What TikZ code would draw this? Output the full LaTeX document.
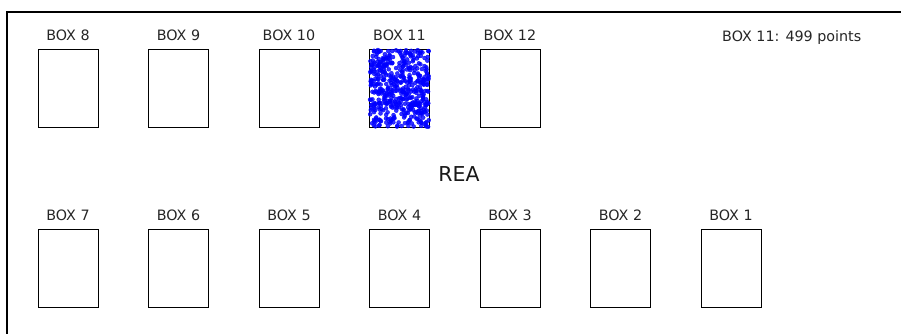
\documentclass[tikz,border=0pt]{standalone}
\usepackage{fontspec}
\setmainfont{DejaVu Sans}
\usepackage{tikz}
\usetikzlibrary{positioning,calc}

\begin{document}
\begin{tikzpicture}[
  x=1pt, y=-1pt,
  bin/.style={draw, line width=0.9pt, minimum width=60pt, minimum height=78pt, inner sep=0pt, anchor=north west},
  binlabel/.style={font=\fontsize{14.3}{16}\selectfont, inner sep=0pt, text=black!85},
  every label/.style={binlabel},
  label distance=8pt,
  dot/.style={fill=blue, draw=blue, line width=0.3pt, fill opacity=0.8}
]
\useasboundingbox (0,0) rectangle (901,334);
% frame (right and bottom sides run off the picture)
\draw[line width=1.8pt] (7,334) -- (7,12) -- (901,12);
% top row
\node[bin, label=above:BOX 8]  (box8)  at (37.5,49) {};
\node[bin, label=above:BOX 9]  (box9)  at (148,49) {};
\node[bin, label=above:BOX 10] (box10) at (258.5,49) {};
\node[bin, label=above:BOX 11] (box11) at (369,49) {};
\node[bin, label=above:BOX 12] (box12) at (479.5,49) {};
% bottom row
\node[bin, label=above:BOX 7] (box7) at (37.5,229) {};
\node[bin, label=above:BOX 6] (box6) at (148,229) {};
\node[bin, label=above:BOX 5] (box5) at (258.5,229) {};
\node[bin, label=above:BOX 4] (box4) at (369,229) {};
\node[bin, label=above:BOX 3] (box3) at (479.5,229) {};
\node[bin, label=above:BOX 2] (box2) at (590,229) {};
\node[bin, label=above:BOX 1] (box1) at (700.5,229) {};
% points in box 11
\pgfmathsetseed{499}
\foreach \i in {1,...,499} {
  \pgfmathsetmacro{\px}{29.5*rand}
  \pgfmathsetmacro{\py}{38.5*rand}
  \fill[dot] ($(box11.center)+(\px,\py)$) circle (2pt);
}
\node[font=\fontsize{20.5}{24}\selectfont, text=black!90] (rea) at (459,174) {REA};
\node[binlabel, anchor=base west] (count) at (722,42) {BOX 11: 499 points};
\end{tikzpicture}
\end{document}
